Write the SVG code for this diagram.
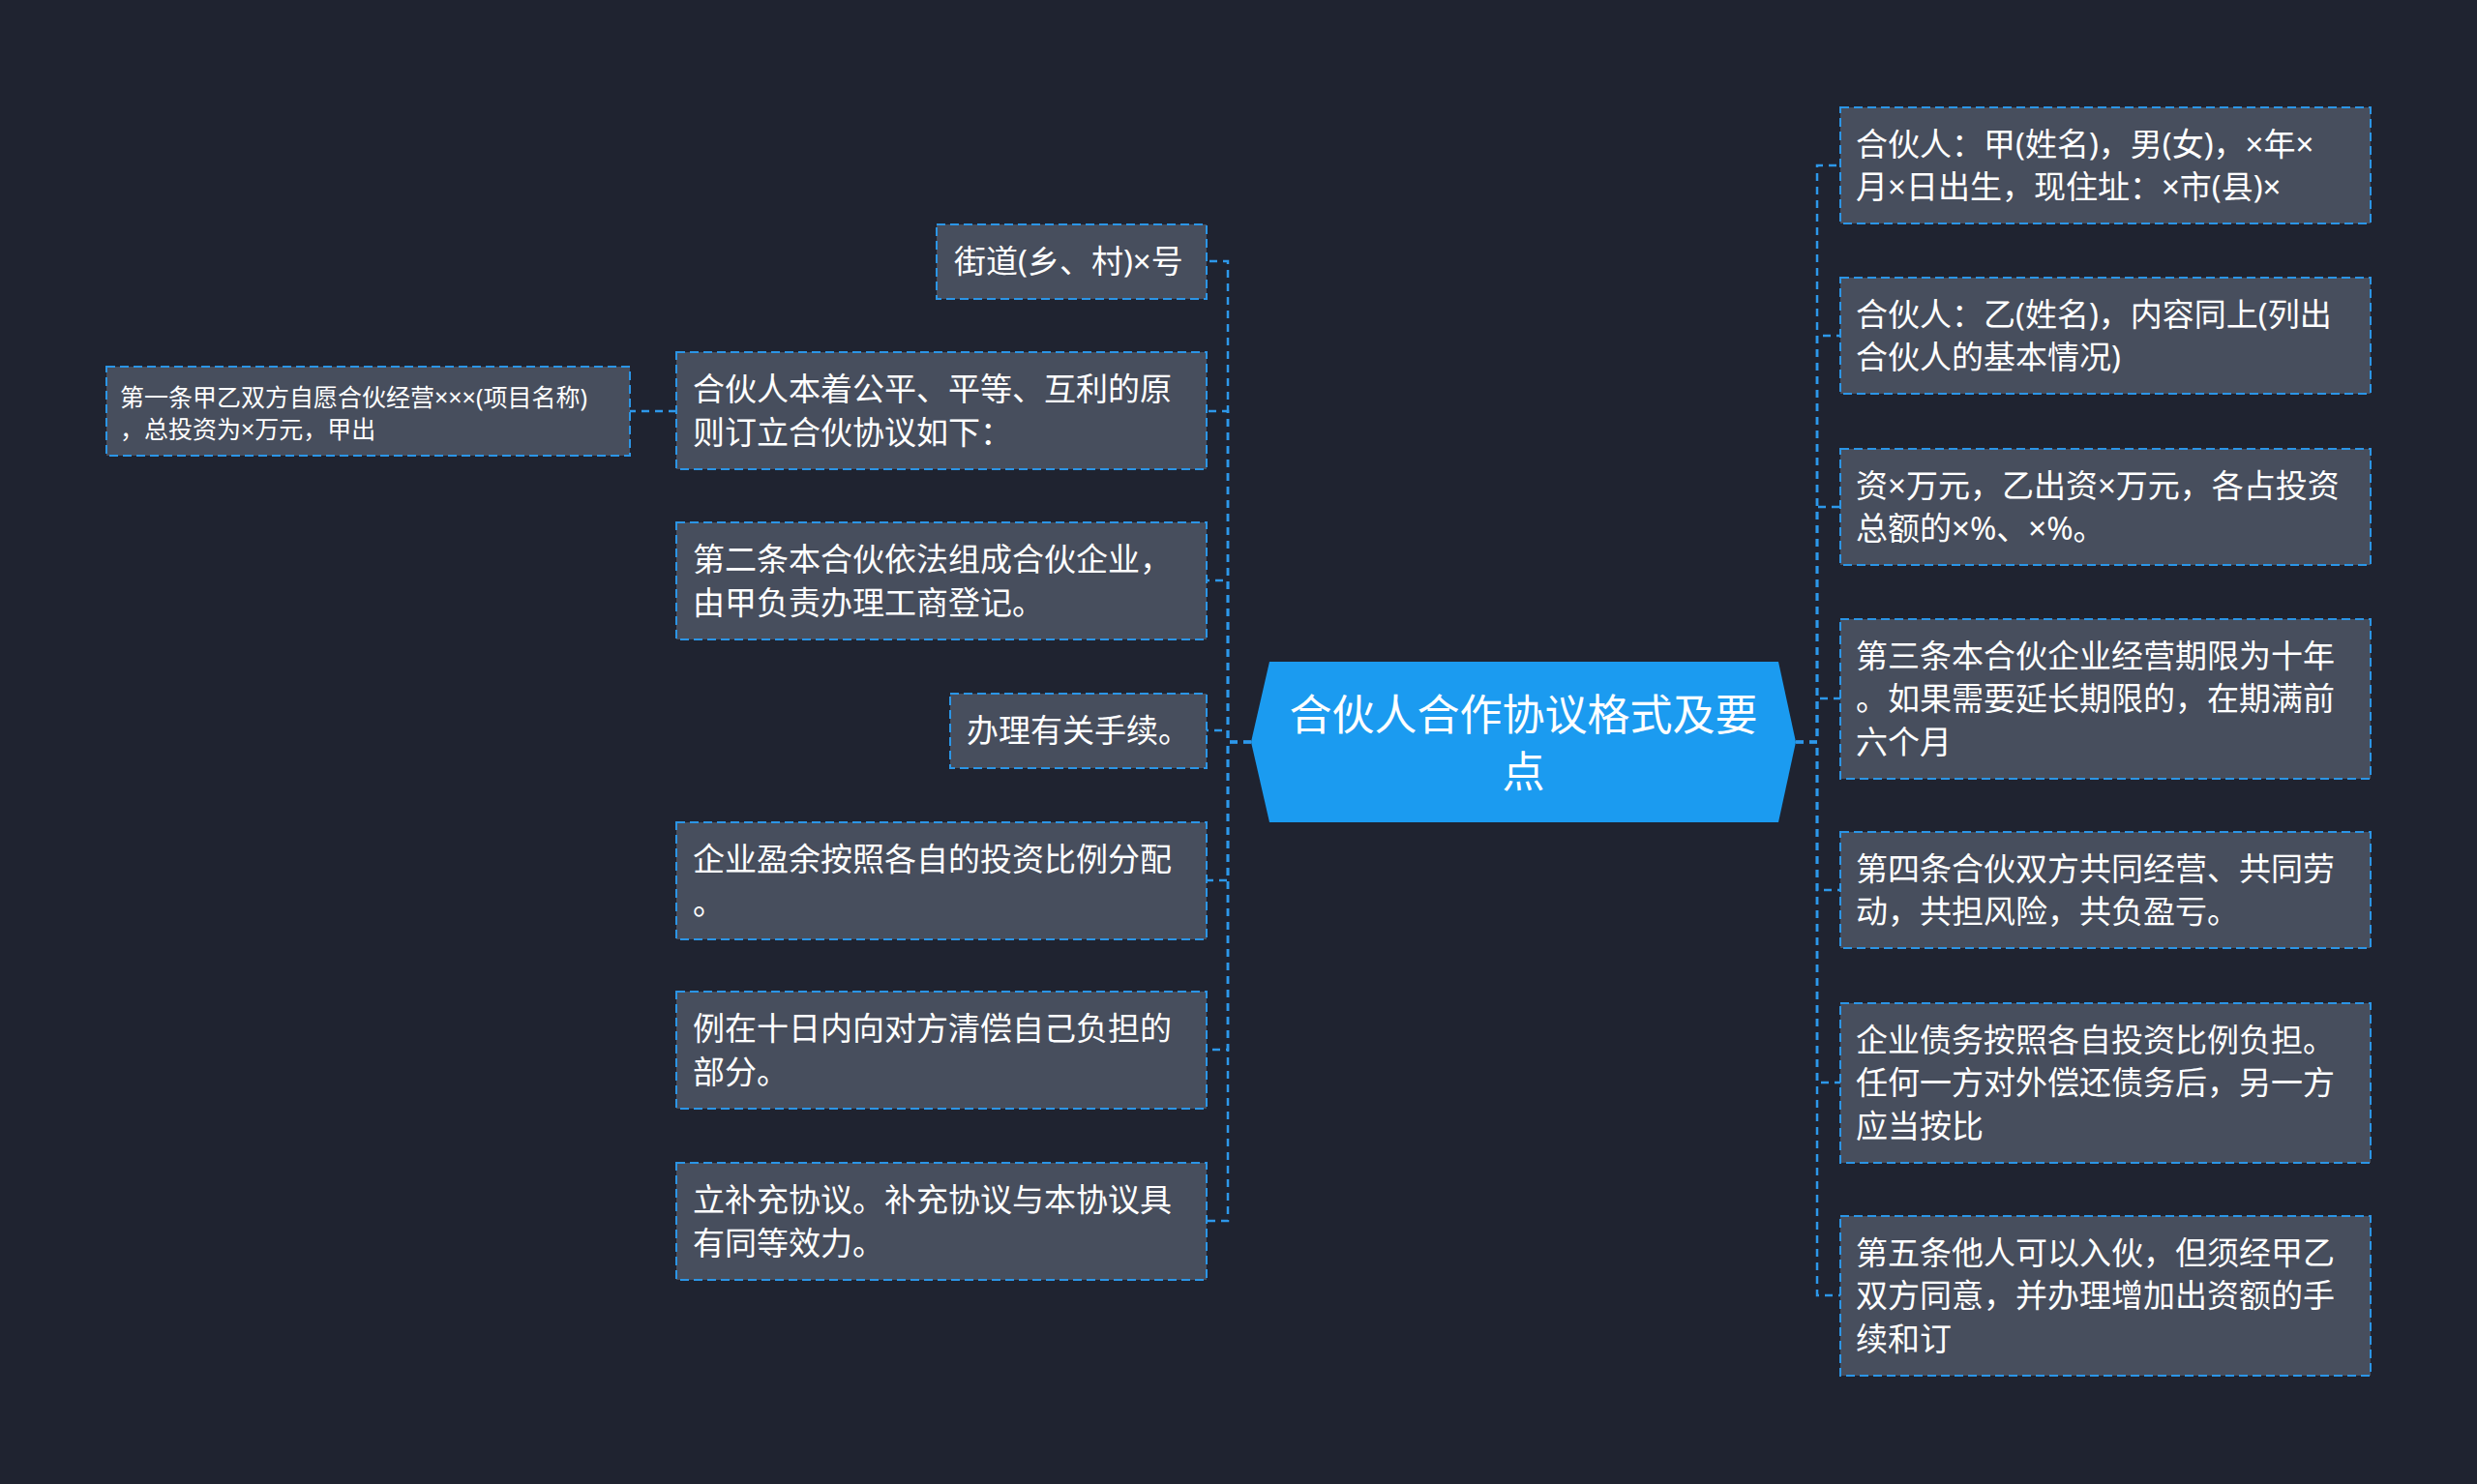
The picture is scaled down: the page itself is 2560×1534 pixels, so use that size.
<svg xmlns="http://www.w3.org/2000/svg" width="2560" height="1534" viewBox="0 0 2560 1534">
<style>
.bg{fill:#1f2330}
.box{fill:#474e5d;stroke:#2b95e6;stroke-width:2;stroke-dasharray:9 5}
.t{fill:#ffffff;font-family:"Noto Sans","Noto Sans CJK SC",sans-serif;font-size:33px}
.ts{fill:#ffffff;font-family:"Noto Sans","Noto Sans CJK SC",sans-serif;font-size:25px}
.tc{fill:#ffffff;font-family:"Noto Sans CJK SC","Noto Sans",sans-serif;font-size:44px;text-anchor:middle}
.c{fill:none;stroke:#2d98ea;stroke-width:2.5;stroke-dasharray:8 6}
</style>
<rect class="bg" x="0" y="0" width="2560" height="1534"/>
<g id="connectors">
<path class="c" d="M1856 767 H1878 V171 H1902"/>
<path class="c" d="M1856 767 H1878 V347 H1902"/>
<path class="c" d="M1856 767 H1878 V524 H1902"/>
<path class="c" d="M1856 767 H1878 V722 H1902"/>
<path class="c" d="M1856 767 H1878 V920 H1902"/>
<path class="c" d="M1856 767 H1878 V1119 H1902"/>
<path class="c" d="M1856 767 H1878 V1339 H1902"/>
<path class="c" d="M1293 767 H1269 V270 H1247"/>
<path class="c" d="M1293 767 H1269 V425 H1247"/>
<path class="c" d="M1293 767 H1269 V600 H1247"/>
<path class="c" d="M1293 767 H1269 V755 H1247"/>
<path class="c" d="M1293 767 H1269 V910 H1247"/>
<path class="c" d="M1293 767 H1269 V1085 H1247"/>
<path class="c" d="M1293 767 H1269 V1262 H1247"/>
<path class="c" d="M699 425 H651"/>
</g>
<g id="center">
<polygon points="1293,767 1312,684 1838,684 1856,767 1838,850 1312,850" fill="#1b9bf0"/>
<text class="tc" x="1574.5" y="755">合伙人合作协议格式及要</text>
<text class="tc" x="1574.5" y="814">点</text>
</g>
<g id="r1"><rect class="box" x="1902" y="111" width="548" height="120"/>
<text class="t" x="1918" y="160.5">合伙人：甲(姓名)，男(女)，×年×</text>
<text class="t" x="1918" y="205">月×日出生，现住址：×市(县)×</text></g>
<g id="r2"><rect class="box" x="1902" y="287" width="548" height="120"/>
<text class="t" x="1918" y="336.5">合伙人：乙(姓名)，内容同上(列出</text>
<text class="t" x="1918" y="381">合伙人的基本情况)</text></g>
<g id="r3"><rect class="box" x="1902" y="464" width="548" height="120"/>
<text class="t" x="1918" y="513.5">资×万元，乙出资×万元，各占投资</text>
<text class="t" x="1918" y="558">总额的×%、×%。</text></g>
<g id="r4"><rect class="box" x="1902" y="640" width="548" height="165"/>
<text class="t" x="1918" y="689.5">第三条本合伙企业经营期限为十年</text>
<text class="t" x="1918" y="734">。如果需要延长期限的，在期满前</text>
<text class="t" x="1918" y="778.5">六个月</text></g>
<g id="r5"><rect class="box" x="1902" y="860" width="548" height="120"/>
<text class="t" x="1918" y="909.5">第四条合伙双方共同经营、共同劳</text>
<text class="t" x="1918" y="954">动，共担风险，共负盈亏。</text></g>
<g id="r6"><rect class="box" x="1902" y="1037" width="548" height="165"/>
<text class="t" x="1918" y="1086.5">企业债务按照各自投资比例负担。</text>
<text class="t" x="1918" y="1131">任何一方对外偿还债务后，另一方</text>
<text class="t" x="1918" y="1175.5">应当按比</text></g>
<g id="r7"><rect class="box" x="1902" y="1257" width="548" height="165"/>
<text class="t" x="1918" y="1306.5">第五条他人可以入伙，但须经甲乙</text>
<text class="t" x="1918" y="1351">双方同意，并办理增加出资额的手</text>
<text class="t" x="1918" y="1395.5">续和订</text></g>
<g id="l1"><rect class="box" x="968" y="232" width="279" height="77"/>
<text class="t" x="986" y="282">街道(乡、村)×号</text></g>
<g id="l2"><rect class="box" x="699" y="364" width="548" height="121"/>
<text class="t" x="716" y="414">合伙人本着公平、平等、互利的原</text>
<text class="t" x="716" y="458.5">则订立合伙协议如下：</text></g>
<g id="l3"><rect class="box" x="699" y="540" width="548" height="121"/>
<text class="t" x="716" y="590">第二条本合伙依法组成合伙企业，</text>
<text class="t" x="716" y="634.5">由甲负责办理工商登记。</text></g>
<g id="l4"><rect class="box" x="982" y="717" width="265" height="77"/>
<text class="t" x="999" y="767">办理有关手续。</text></g>
<g id="l5"><rect class="box" x="699" y="850" width="548" height="121"/>
<text class="t" x="716" y="900">企业盈余按照各自的投资比例分配</text>
<text class="t" x="716" y="944.5">。</text></g>
<g id="l6"><rect class="box" x="699" y="1025" width="548" height="121"/>
<text class="t" x="716" y="1075">例在十日内向对方清偿自己负担的</text>
<text class="t" x="716" y="1119.5">部分。</text></g>
<g id="l7"><rect class="box" x="699" y="1202" width="548" height="121"/>
<text class="t" x="716" y="1252">立补充协议。补充协议与本协议具</text>
<text class="t" x="716" y="1296.5">有同等效力。</text></g>
<g id="ll"><rect class="box" x="110" y="379" width="541" height="92"/>
<text class="ts" x="124" y="419.5">第一条甲乙双方自愿合伙经营×××(项目名称)</text>
<text class="ts" x="124" y="452.5">，总投资为×万元，甲出</text></g>
</svg>
